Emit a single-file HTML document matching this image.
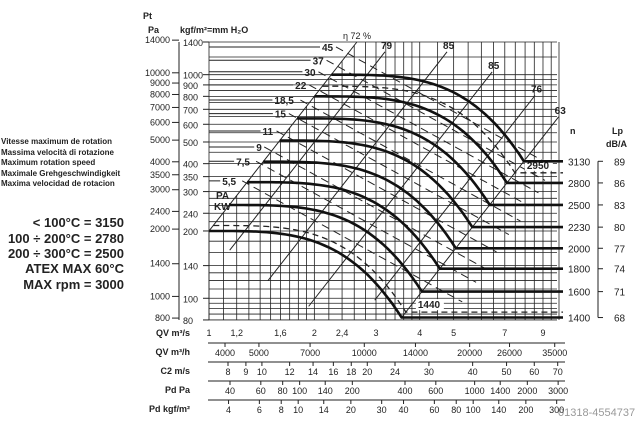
<!DOCTYPE html>
<html><head><meta charset="utf-8"><style>
body{margin:0;background:#fff;}
svg text{font-family:"Liberation Sans",sans-serif;fill:#222;}
</style></head><body>
<svg id="c" width="640" height="419" viewBox="0 0 640 419" xmlns="http://www.w3.org/2000/svg">
<g font-weight="bold">
<text x="1" y="144" font-size="8">Vitesse maximum de rotation</text>
<text x="1" y="155" font-size="8">Massima velocità di rotazione</text>
<text x="1" y="165" font-size="8">Maximum rotation speed</text>
<text x="1" y="176" font-size="8">Maximale Grehgeschwindigkeit</text>
<text x="1" y="186" font-size="8">Maxima velocidad de rotacion</text>
<g text-anchor="end" font-size="13">
<text x="124" y="227">&lt; 100°C = 3150</text>
<text x="124" y="243">100 ÷ 200°C = 2780</text>
<text x="124" y="258">200 ÷ 300°C = 2500</text>
<text x="124" y="273">ATEX MAX 60°C</text>
<text x="124" y="289">MAX rpm = 3000</text>
</g></g>
<text x="143" y="19" font-size="9" font-weight="bold">Pt</text>
<text x="148" y="33" font-size="9" font-weight="bold">Pa</text>
<text x="180" y="33" font-size="9" font-weight="bold">kgf/m²=mm H₂O</text>
<text x="343" y="39" font-size="9">η 72 %</text>
<text x="570" y="134" font-size="9" font-weight="bold">n</text>
<text x="612" y="134" font-size="9" font-weight="bold">Lp</text>
<text x="606" y="147" font-size="9" font-weight="bold">dB/A</text>
<text x="558" y="416" font-size="11" style="fill:#999">01318-4554737</text>
</svg>
<script>
const speeds=[1400,1600,1800,2000,2230,2500,2800,3130];
const lpValues=[68,71,74,77,80,83,86,89];
const dashedSpeeds=[1440,2950];
const baseStart=[1.0,200];   // Q m3/s, Pt kgf at 1400 rpm
const baseKnee=[3.55,82];
const etaLabels=['72 %','79','85','85','76','63'];
const etaK=[200,124.9,55.2,24.8,11.07,6.51];
const etaTopP=[1400,1265,1265,1029,807,648];
const etaBottomP=[200,164,120,92,98,82];
const kwLabels=['45','37','30','22','18,5','15','11','9','7,5','5,5'];
const kwP=[1330,1160,1030,900,770,670,560,475,410,335];
const paTicks=[14000,10000,9000,8000,7000,6000,5000,4000,3500,3000,2400,2000,1400,1000,800];
const kgfTicks=[1400,1000,900,800,700,600,500,400,350,300,240,200,140,100,80];
const kgfGrid=[80,85,90,95,100,110,120,130,140,160,180,200,220,240,260,280,300,350,400,450,500,550,600,650,700,750,800,850,900,950,1000,1200,1400];
const qGrid=[1,1.1,1.2,1.3,1.4,1.5,1.6,1.7,1.8,1.9,2,2.2,2.4,2.6,2.8,3,3.2,3.4,3.6,3.8,4,4.5,5,5.5,6,6.5,7,7.5,8,8.5,9,9.5,10];
const qLabels=[1,1.2,1.6,2,2.4,3,4,5,7,9];
const m3hLabels=[4000,5000,7000,10000,14000,20000,26000,35000];
const c2Labels=[8,9,10,12,14,16,18,20,24,30,40,50,60,70];
const pdPaLabels=[40,60,80,100,140,200,400,600,1000,1400,2000,3000];
const pdKgfLabels=[4,6,8,10,14,20,30,40,60,80,100,140,200,300];

const NS='http://www.w3.org/2000/svg';
const svg=document.getElementById('c');
const X=q=>209+350*Math.log10(q);
const Y=p=>42+223.6*Math.log10(1400/p);
const XR=557;
function el(tag,attrs,parent){const e=document.createElementNS(NS,tag);for(const k in attrs)e.setAttribute(k,attrs[k]);(parent||svg).appendChild(e);return e;}
function txt(x,y,s,size,anchor,parent){const t=el('text',{x:x,y:y,'font-size':size||9,'text-anchor':anchor||'start'},parent);t.textContent=s;return t;}

const grid=el('g',{stroke:'#222','stroke-width':0.8});


kgfGrid.forEach(p=>{const y=Y(p);const l=el('line',{x1:209,x2:XR,y1:y,y2:y},grid);

});
qGrid.forEach(q=>{const x=X(q);const yt=Math.max(42,Y(200*q*q));const l=el('line',{x1:x,x2:x,y1:yt,y2:320},grid);

});
el('line',{x1:209,x2:209,y1:42,y2:320},grid);

const ax=el('g',{stroke:'#222','stroke-width':1});


el('line',{x1:179,x2:179,y1:42,y2:320},ax);
const axt=el('g',{'font-size':9});
paTicks.forEach(pa=>{const y=Y(pa/9.81);el('line',{x1:172,x2:179,y1:y,y2:y},ax);const t=txt(170,y+3,String(pa),9,'end',axt);

});
kgfTicks.forEach(k=>{const y=Y(k);el('line',{x1:203,x2:209,y1:y,y2:y},ax);const t=txt(183,y+4,String(k),9,'start',axt);

});

const kw=el('g',{});


kwLabels.forEach((s,i)=>{const y=Y(kwP[i]);
 const frac=Math.log(kwP[i]/335)/Math.log(1330/335);
 const xl=X(Math.sqrt(kwP[i]/200))-4-s.length*5-(7+10*frac);
 el('line',{x1:209,x2:xl-2,y1:y,y2:y,stroke:'#222','stroke-width':1},kw);
 const t=txt(xl,y+4,s,10,'start',kw);t.setAttribute('font-weight','bold');
 
 
 const xs=xl+s.length*6+2;const xe=Math.min(545,xs+220);
 const dl=el('line',{x1:xs,y1:y,x2:xe,y2:y+(xe-xs)*0.55,stroke:'#222','stroke-width':1,'stroke-dasharray':'8,5'},kw);
 
 
});
const pa=txt(216,199,'PA',10,'start');pa.setAttribute('font-weight','bold');


const kwl=txt(214,210,'KW',10,'start');kwl.setAttribute('font-weight','bold');



etaLabels.forEach((s,i)=>{const qT=Math.sqrt(etaTopP[i]/etaK[i]),qB=Math.sqrt(etaBottomP[i]/etaK[i]);
 const l=el('line',{x1:X(qT),y1:Y(etaTopP[i]),x2:X(qB),y2:Y(etaBottomP[i]),stroke:'#222','stroke-width':1});
 
 
 if(i>0){const t=txt(X(qT)-4,Y(etaTopP[i])-3,s,10,'start');t.setAttribute('font-weight','bold');
 
 }
});

function curvePath(n){const r=n/1400;const x0=X(baseStart[0]*r),y0=Y(baseStart[1]*r*r),x1=X(baseKnee[0]*r),y1=Y(baseKnee[1]*r*r);
 let d='';for(let k=0;k<=40;k++){const t=k/40;d+=(k?'L':'M')+(x0+(x1-x0)*t).toFixed(1)+','+(y0+(y1-y0)*Math.pow(t,3.5)).toFixed(1);}
 d+='L'+(XR+6)+','+y1.toFixed(1);return {d:d,y:y1};}
dashedSpeeds.forEach(n=>{const c=curvePath(n);const p=el('path',{d:c.d,fill:'none',stroke:'#222','stroke-width':1.3,'stroke-dasharray':'6,4'});
 
 
 el('rect',{x:X(baseKnee[0]*n/1400)+10,y:c.y-13,width:28,height:11,fill:'#fff'});
 const t=txt(X(baseKnee[0]*n/1400)+12,c.y-4,String(n),10,'start');t.setAttribute('font-weight','bold');
 
 });
speeds.forEach((n,i)=>{const c=curvePath(n);const p=el('path',{d:c.d,fill:'none',stroke:'#111','stroke-width':2.6});
 
 
 const t=txt(568,c.y+4,String(n),10,'start');
 
 
 el('line',{x1:598,x2:603,y1:c.y,y2:c.y,stroke:'#222'});
 const l=txt(614,c.y+4,String(lpValues[i]),10,'start');
 
 });
el('line',{x1:598,x2:598,y1:Y(baseKnee[1]*Math.pow(3130/1400,2)),y2:Y(baseKnee[1]),stroke:'#222'});

const bot=el('g',{'font-size':9});


function rowTitle(y,s){const t=txt(190,y,s,9,'end',bot);t.setAttribute('font-weight','bold');
 
 }
rowTitle(336,'QV m³/s');rowTitle(355,'QV m³/h');rowTitle(374,'C2 m/s');rowTitle(393,'Pd Pa');rowTitle(412,'Pd kgf/m²');
qLabels.forEach(q=>{const t=txt(X(q),336,String(q).replace('.',','),9,'middle',bot);
 
 });
function scale(yLine,yText,vals,fx,name){el('line',{x1:208,x2:565,y1:yLine,y2:yLine,stroke:'#222'},bot);
 vals.forEach(v=>{const x=fx(v);el('line',{x1:x,x2:x,y1:yLine,y2:yLine+4,stroke:'#222'},bot);
 const t=txt(x,yText,String(v),9,'middle',bot);
 
 });}
scale(343,356,m3hLabels,v=>X(v/3600),'m3h-label');
scale(362,375,c2Labels,v=>228+350*Math.log10(v/8),'c2-label');
scale(381,394,pdPaLabels,v=>230+175*Math.log10(v/40),'pdpa-label');
scale(400,413,pdKgfLabels,v=>230+175*Math.log10(v*9.81/40),'pdkgf-label');
</script>
</body></html>
